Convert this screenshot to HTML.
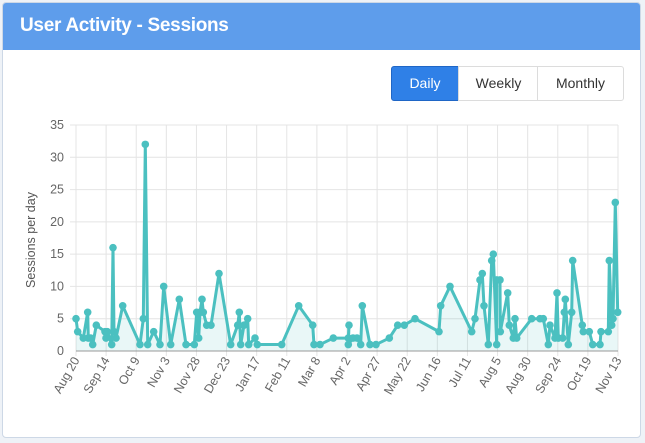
<!DOCTYPE html>
<html><head><style>
body{margin:0;width:645px;height:443px;background:#eef2f7;font-family:"Liberation Sans",sans-serif;overflow:hidden}
.panel{position:absolute;left:2px;top:2px;width:637px;height:434px;background:#fff;border:1px solid #cdd8e6;border-radius:4px}
.hd{position:absolute;left:0;top:0;width:637px;height:47px;background:#5e9deb;border-radius:3px 3px 0 0}
.hd span{position:absolute;left:17px;top:12px;color:#fff;font-weight:bold;font-size:19px;letter-spacing:-0.3px}
.btn{position:absolute;top:66px;height:33px;border:1px solid #dcdcdc;background:#fff;font-size:14px;line-height:33px;text-align:center;color:#333}
</style></head><body>
<div class="panel">
<div class="hd"><span>User Activity - Sessions</span></div>
</div>
<div class="btn" style="left:391px;width:66px;background:#2f80e7;border-color:#1f66c6;color:#fff;border-radius:3px 0 0 3px">Daily</div>
<div class="btn" style="left:458px;width:79px">Weekly</div>
<div class="btn" style="left:537px;width:85px;border-radius:0 3px 3px 0">Monthly</div>
<svg width="645" height="443" style="position:absolute;left:0;top:0" font-family="Liberation Sans, sans-serif" font-size="12" fill="#666">
<g id="grid" stroke="#e4e4e4" stroke-width="1"></g>
<text transform="translate(35,240) rotate(-90)" text-anchor="middle" font-size="12.5" fill="#555">Sessions per day</text>
<g id="yl" font-size="12.5"></g><g id="xl" font-size="12.5"></g>
<path id="area" fill="rgba(75,192,192,0.12)"/>
<line x1="76" y1="351" x2="618" y2="351" stroke="#999"/>
<path id="ln" fill="none" stroke="#4bc0c0" stroke-width="3" stroke-linejoin="round"/>
<g id="pts" fill="#4bc0c0"></g>
</svg>
<script>
var ns="http://www.w3.org/2000/svg",y0=351,s=226/35;
function el(t,a,p,txt){var e=document.createElementNS(ns,t);for(var k in a)e.setAttribute(k,a[k]);if(txt)e.textContent=txt;document.getElementById(p).appendChild(e);}
for(var i=0;i<=7;i++){var y=y0-i*5*s;if(i>0)el('line',{x1:70,x2:618,y1:y,y2:y},'grid');el('text',{x:64,y:y+4,'text-anchor':'end'},'yl',String(i*5));}
var labs=["Aug 20","Sep 14","Oct 9","Nov 3","Nov 28","Dec 23","Jan 17","Feb 11","Mar 8","Apr 2","Apr 27","May 22","Jun 16","Jul 11","Aug 5","Aug 30","Sep 24","Oct 19","Nov 13"];
labs.forEach(function(l,i){var x=76+i*542/18;el('line',{x1:x,x2:x,y1:125,y2:356},'grid');el('text',{transform:'translate('+(x+4)+',360) rotate(-60)','text-anchor':'end'},'xl',l);});
var d=[[76,5],[77.7,3],[83.3,2],[87.7,6],[88.3,2],[90.7,2],[92.7,1],[96.3,4],[105,3],[106,2],[107.3,3],[111.7,1],[113,16],[114,3],[116,2],[122.7,7],[140,1],[143.3,5],[145.3,32],[147.7,1],[153.7,3],[160,1],[163.7,10],[170.7,1],[179.3,8],[186,1],[194.3,1],[196.7,6],[198.7,2],[200,6],[202,8],[203.3,6],[206.7,4],[211,4],[219,12],[230.7,1],[237.7,4],[239.3,6],[240.7,1],[244,4],[247.7,5],[248.7,1],[255,2],[257.3,1],[281.7,1],[298.7,7],[312.7,4],[314,1],[320,1],[333.3,2],[348.3,2],[349,4],[348.3,1],[353,2],[357,2],[360.7,1],[362.3,7],[370,1],[376,1],[389.3,2],[397.7,4],[404.3,4],[415,5],[439,3],[440.7,7],[450,10],[471.7,3],[475,5],[480,11],[482.3,12],[484,7],[488.3,1],[491.7,14],[493.3,15],[496.7,1],[496.7,11],[500,11],[500.3,3],[507.7,9],[509.3,4],[513.3,2],[515,5],[516.7,2],[531.7,5],[540,5],[543.3,5],[548.3,1],[550,4],[555,2],[557,9],[558.3,2],[562.7,2],[564.3,6],[565.3,8],[568.3,1],[571.7,6],[572.7,14],[582.3,4],[583.3,3],[589.3,3],[592.7,1],[600,1],[601,3],[608.3,3],[609.3,14],[611.7,4],[613,5],[615.3,23],[617.7,6]];
var p="";d.forEach(function(q,i){var y=y0-q[1]*s;p+=(i?"L":"M")+q[0]+","+y;el('circle',{cx:q[0],cy:y,r:3.8},'pts');});
document.getElementById('ln').setAttribute('d',p);
document.getElementById('area').setAttribute('d',p+"L617.7,351L76,351Z");
</script>
</body></html>
